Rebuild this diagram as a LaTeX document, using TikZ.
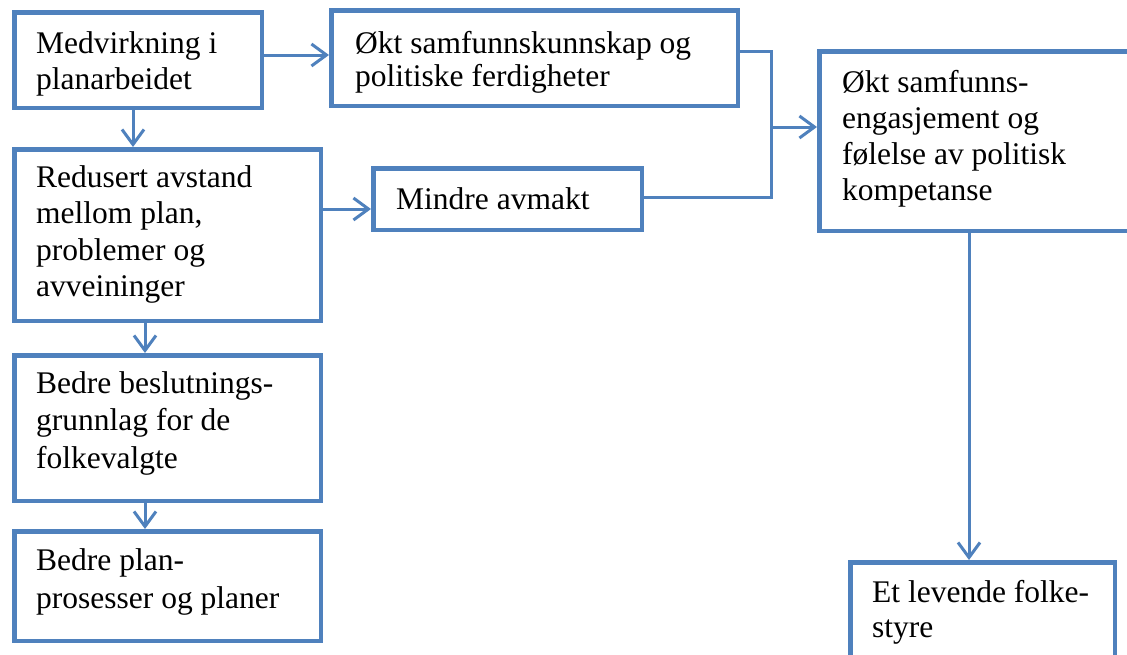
\documentclass[tikz,border=0pt]{standalone}
\usepackage{fontspec}
\setmainfont{Liberation Serif}
\usetikzlibrary{arrows.meta}
\definecolor{ob}{RGB}{79,129,189}
\newcommand{\mylines}[1]{\parbox[t]{400pt}{\raggedright #1}}
\tikzset{
  box/.style={draw=ob, line width=4.5pt, fill=white, rectangle, anchor=north west, inner sep=0pt},
  txt/.style={anchor=base west, inner sep=0pt, font=\fontsize{31.5}{36.5}\selectfont},
  conn/.style={draw=ob, line width=3pt, -{Straight Barb[length=15pt,width=22pt]}},
  wire/.style={draw=ob, line width=3pt},
}
\begin{document}
\begin{tikzpicture}[x=1pt,y=-1pt]
\clip (0,0) rectangle (1127,654);
\fill[white] (0,0) rectangle (1127,654);

% boxes
\node[box, minimum width=247.5pt, minimum height=95.5pt]  (A) at (12,10)  {};
\node[box, minimum width=406.5pt, minimum height=95.5pt]  (B) at (329,8)  {};
\node[box, minimum width=306.5pt, minimum height=171.5pt] (C) at (12,147) {};
\node[box, minimum width=268.5pt, minimum height=61.5pt]  (M) at (371,166) {};
\node[box, minimum width=400pt,   minimum height=179.5pt] (D) at (817,49) {};
\node[box, minimum width=306.5pt, minimum height=145.5pt] (E) at (12,353) {};
\node[box, minimum width=306.5pt, minimum height=109.5pt] (F) at (12,529) {};
\node[box, minimum width=264.5pt, minimum height=150pt]   (G) at (848,560) {};

% texts
\node[txt] (tA) at (36,53)  {\mylines{Medvirkning i\\planarbeidet}};
\node[txt, font=\fontsize{31.5}{33.5}\selectfont] (tB) at (355,53) {\mylines{Økt samfunnskunnskap og\\politiske ferdigheter}};
\node[txt] (tC) at (36,187) {\mylines{Redusert avstand\\mellom plan,\\problemer og\\avveininger}};
\node[txt] (tM) at (396,209) {Mindre avmakt};
\node[txt, font=\fontsize{31.5}{36}\selectfont] (tD) at (842,92) {\mylines{Økt samfunns-\\engasjement og\\følelse av politisk\\kompetanse}};
\node[txt, font=\fontsize{31.5}{37.5}\selectfont] (tE) at (36,393) {\mylines{Bedre beslutnings-\\grunnlag for de\\folkevalgte}};
\node[txt, font=\fontsize{31.5}{38}\selectfont] (tF) at (36,570) {\mylines{Bedre plan-\\prosesser og planer}};
\node[txt, font=\fontsize{31.5}{35}\selectfont] (tG) at (872,602) {\mylines{Et levende folke-\\styre}};

% connectors
\coordinate (ab) at ([yshift=5pt]A.east);
\draw[conn] (ab) -- (ab -| B.west);

\draw[conn] ([xshift=-5pt]A.south) -- ([xshift=-5pt]A.south |- C.north);

\coordinate (cm) at ([yshift=26pt]C.east);
\draw[conn] (cm) -- (cm -| M.west);

\coordinate (ce) at ([xshift=-22.5pt]C.south);
\draw[conn] (ce) -- (ce |- E.north);
\coordinate (ef) at ([xshift=-22.5pt]E.south);
\draw[conn] (ef) -- (ef |- F.north);

\coordinate (jx) at (771,127);
\draw[wire] ([yshift=7pt]B.east) -| (jx);
\draw[wire] ([yshift=2pt]M.east) -| (jx);
\draw[conn] (jx) -- (jx -| D.west);

\coordinate (dg) at (969,0);
\draw[conn] (D.south -| dg) -- (G.north -| dg);
\end{tikzpicture}
\end{document}
